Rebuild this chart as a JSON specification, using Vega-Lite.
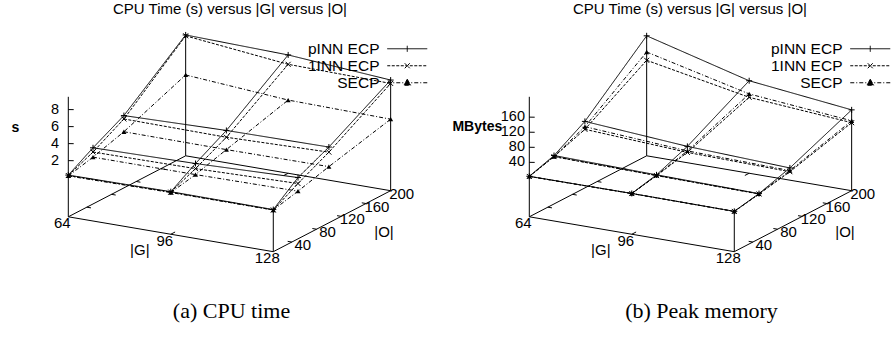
{
  "$schema": "https://vega.github.io/schema/vega-lite/v6.json",
  "padding": 0,
  "spacing": 0,
  "bounds": "flush",
  "background": "white",
  "datasets": {
    "cpu": [
      {"s":"pINN ECP","G":64,"O":10,"z":0.3},{"s":"pINN ECP","G":64,"O":50,"z":2.0},{"s":"pINN ECP","G":64,"O":100,"z":3.9},{"s":"pINN ECP","G":64,"O":200,"z":9.6},
      {"s":"pINN ECP","G":96,"O":10,"z":0.4},{"s":"pINN ECP","G":96,"O":50,"z":2.2},{"s":"pINN ECP","G":96,"O":100,"z":4.2},{"s":"pINN ECP","G":96,"O":200,"z":9.3},
      {"s":"pINN ECP","G":128,"O":10,"z":0.35},{"s":"pINN ECP","G":128,"O":50,"z":2.6},{"s":"pINN ECP","G":128,"O":100,"z":4.3},{"s":"pINN ECP","G":128,"O":200,"z":8.4},
      {"s":"1INN ECP","G":64,"O":10,"z":0.25},{"s":"1INN ECP","G":64,"O":50,"z":1.5},{"s":"1INN ECP","G":64,"O":100,"z":3.5},{"s":"1INN ECP","G":64,"O":200,"z":9.5},
      {"s":"1INN ECP","G":96,"O":10,"z":0.35},{"s":"1INN ECP","G":96,"O":50,"z":1.6},{"s":"1INN ECP","G":96,"O":100,"z":3.4},{"s":"1INN ECP","G":96,"O":200,"z":8.2},
      {"s":"1INN ECP","G":128,"O":10,"z":0.3},{"s":"1INN ECP","G":128,"O":50,"z":1.9},{"s":"1INN ECP","G":128,"O":100,"z":3.7},{"s":"1INN ECP","G":128,"O":200,"z":8.0},
      {"s":"SECP","G":64,"O":10,"z":0.2},{"s":"SECP","G":64,"O":50,"z":0.9},{"s":"SECP","G":64,"O":100,"z":2.0},{"s":"SECP","G":64,"O":200,"z":4.9},
      {"s":"SECP","G":96,"O":10,"z":0.3},{"s":"SECP","G":96,"O":50,"z":0.9},{"s":"SECP","G":96,"O":100,"z":1.95},{"s":"SECP","G":96,"O":200,"z":4.0},
      {"s":"SECP","G":128,"O":10,"z":0.3},{"s":"SECP","G":128,"O":50,"z":1.0},{"s":"SECP","G":128,"O":100,"z":2.0},{"s":"SECP","G":128,"O":200,"z":3.8}
    ],
    "mem": [
      {"s":"pINN ECP","G":64,"O":10,"z":3},{"s":"pINN ECP","G":64,"O":50,"z":24},{"s":"pINN ECP","G":64,"O":100,"z":72},{"s":"pINN ECP","G":64,"O":200,"z":214},
      {"s":"pINN ECP","G":96,"O":10,"z":3.7},{"s":"pINN ECP","G":96,"O":50,"z":19},{"s":"pINN ECP","G":96,"O":100,"z":52},{"s":"pINN ECP","G":96,"O":200,"z":141},
      {"s":"pINN ECP","G":128,"O":10,"z":2.5},{"s":"pINN ECP","G":128,"O":50,"z":15.5},{"s":"pINN ECP","G":128,"O":100,"z":41},{"s":"pINN ECP","G":128,"O":200,"z":110},
      {"s":"1INN ECP","G":64,"O":10,"z":2.5},{"s":"1INN ECP","G":64,"O":50,"z":21},{"s":"1INN ECP","G":64,"O":100,"z":51},{"s":"1INN ECP","G":64,"O":200,"z":149},
      {"s":"1INN ECP","G":96,"O":10,"z":3.4},{"s":"1INN ECP","G":96,"O":50,"z":17},{"s":"1INN ECP","G":96,"O":100,"z":36},{"s":"1INN ECP","G":96,"O":200,"z":97},
      {"s":"1INN ECP","G":128,"O":10,"z":2.3},{"s":"1INN ECP","G":128,"O":50,"z":14.5},{"s":"1INN ECP","G":128,"O":100,"z":31},{"s":"1INN ECP","G":128,"O":200,"z":76},
      {"s":"SECP","G":64,"O":10,"z":2.6},{"s":"SECP","G":64,"O":50,"z":21.5},{"s":"SECP","G":64,"O":100,"z":58},{"s":"SECP","G":64,"O":200,"z":171},
      {"s":"SECP","G":96,"O":10,"z":3.5},{"s":"SECP","G":96,"O":50,"z":17.5},{"s":"SECP","G":96,"O":100,"z":40},{"s":"SECP","G":96,"O":200,"z":106},
      {"s":"SECP","G":128,"O":10,"z":2.4},{"s":"SECP","G":128,"O":50,"z":15},{"s":"SECP","G":128,"O":100,"z":34},{"s":"SECP","G":128,"O":200,"z":81}
    ],
    "frameA": [
      {"id":"b","k":0,"G":64,"O":10,"z":-4.6},{"id":"b","k":1,"G":128,"O":10,"z":-4.6},{"id":"b","k":2,"G":128,"O":200,"z":-4.6},{"id":"b","k":3,"G":64,"O":200,"z":-4.6},{"id":"b","k":4,"G":64,"O":10,"z":-4.6},
      {"id":"za","k":0,"G":64,"O":10,"z":-4.6},{"id":"za","k":1,"G":64,"O":10,"z":9.5},
      {"id":"c1","k":0,"G":64,"O":200,"z":-4.6},{"id":"c1","k":1,"G":64,"O":200,"z":9.6},
      {"id":"c2","k":0,"G":128,"O":10,"z":-4.6},{"id":"c2","k":1,"G":128,"O":10,"z":0.35},
      {"id":"c3","k":0,"G":128,"O":200,"z":-4.6},{"id":"c3","k":1,"G":128,"O":200,"z":8.4},
      {"id":"tz2","k":0,"G":64,"O":10,"z":2},{"id":"tz2","k":1,"G":65.3,"O":12,"z":2},
      {"id":"tz4","k":0,"G":64,"O":10,"z":4},{"id":"tz4","k":1,"G":65.3,"O":12,"z":4},
      {"id":"tz6","k":0,"G":64,"O":10,"z":6},{"id":"tz6","k":1,"G":65.3,"O":12,"z":6},
      {"id":"tz8","k":0,"G":64,"O":10,"z":8},{"id":"tz8","k":1,"G":65.3,"O":12,"z":8},
      {"id":"tgf","k":0,"G":96,"O":10,"z":-4.6},{"id":"tgf","k":1,"G":96,"O":17,"z":-4.6},
      {"id":"tgb","k":0,"G":96,"O":200,"z":-4.6},{"id":"tgb","k":1,"G":96,"O":193,"z":-4.6},
      {"id":"tr40","k":0,"G":128,"O":40,"z":-4.6},{"id":"tr40","k":1,"G":126.7,"O":40,"z":-4.6},
      {"id":"tr80","k":0,"G":128,"O":80,"z":-4.6},{"id":"tr80","k":1,"G":126.7,"O":80,"z":-4.6},
      {"id":"tr120","k":0,"G":128,"O":120,"z":-4.6},{"id":"tr120","k":1,"G":126.7,"O":120,"z":-4.6},
      {"id":"tr160","k":0,"G":128,"O":160,"z":-4.6},{"id":"tr160","k":1,"G":126.7,"O":160,"z":-4.6},
      {"id":"tl40","k":0,"G":64,"O":40,"z":-4.6},{"id":"tl40","k":1,"G":65.3,"O":40,"z":-4.6},
      {"id":"tl80","k":0,"G":64,"O":80,"z":-4.6},{"id":"tl80","k":1,"G":65.3,"O":80,"z":-4.6},
      {"id":"tl120","k":0,"G":64,"O":120,"z":-4.6},{"id":"tl120","k":1,"G":65.3,"O":120,"z":-4.6},
      {"id":"tl160","k":0,"G":64,"O":160,"z":-4.6},{"id":"tl160","k":1,"G":65.3,"O":160,"z":-4.6}
    ],
    "frameB": [
      {"id":"b","k":0,"G":64,"O":10,"z":-104.6},{"id":"b","k":1,"G":128,"O":10,"z":-104.6},{"id":"b","k":2,"G":128,"O":200,"z":-104.6},{"id":"b","k":3,"G":64,"O":200,"z":-104.6},{"id":"b","k":4,"G":64,"O":10,"z":-104.6},
      {"id":"za","k":0,"G":64,"O":10,"z":-104.6},{"id":"za","k":1,"G":64,"O":10,"z":214},
      {"id":"c1","k":0,"G":64,"O":200,"z":-104.6},{"id":"c1","k":1,"G":64,"O":200,"z":214},
      {"id":"c2","k":0,"G":128,"O":10,"z":-104.6},{"id":"c2","k":1,"G":128,"O":10,"z":2.5},
      {"id":"c3","k":0,"G":128,"O":200,"z":-104.6},{"id":"c3","k":1,"G":128,"O":200,"z":110},
      {"id":"tz40","k":0,"G":64,"O":10,"z":40},{"id":"tz40","k":1,"G":65.3,"O":12,"z":40},
      {"id":"tz80","k":0,"G":64,"O":10,"z":80},{"id":"tz80","k":1,"G":65.3,"O":12,"z":80},
      {"id":"tz120","k":0,"G":64,"O":10,"z":120},{"id":"tz120","k":1,"G":65.3,"O":12,"z":120},
      {"id":"tz160","k":0,"G":64,"O":10,"z":160},{"id":"tz160","k":1,"G":65.3,"O":12,"z":160},
      {"id":"tgf","k":0,"G":96,"O":10,"z":-104.6},{"id":"tgf","k":1,"G":96,"O":17,"z":-104.6},
      {"id":"tgb","k":0,"G":96,"O":200,"z":-104.6},{"id":"tgb","k":1,"G":96,"O":193,"z":-104.6},
      {"id":"tr40","k":0,"G":128,"O":40,"z":-104.6},{"id":"tr40","k":1,"G":126.7,"O":40,"z":-104.6},
      {"id":"tr80","k":0,"G":128,"O":80,"z":-104.6},{"id":"tr80","k":1,"G":126.7,"O":80,"z":-104.6},
      {"id":"tr120","k":0,"G":128,"O":120,"z":-104.6},{"id":"tr120","k":1,"G":126.7,"O":120,"z":-104.6},
      {"id":"tr160","k":0,"G":128,"O":160,"z":-104.6},{"id":"tr160","k":1,"G":126.7,"O":160,"z":-104.6},
      {"id":"tl40","k":0,"G":64,"O":40,"z":-104.6},{"id":"tl40","k":1,"G":65.3,"O":40,"z":-104.6},
      {"id":"tl80","k":0,"G":64,"O":80,"z":-104.6},{"id":"tl80","k":1,"G":65.3,"O":80,"z":-104.6},
      {"id":"tl120","k":0,"G":64,"O":120,"z":-104.6},{"id":"tl120","k":1,"G":65.3,"O":120,"z":-104.6},
      {"id":"tl160","k":0,"G":64,"O":160,"z":-104.6},{"id":"tl160","k":1,"G":65.3,"O":160,"z":-104.6}
    ],
    "zlabA": [{"t":"2","G":64,"O":10,"z":2},{"t":"4","G":64,"O":10,"z":4},{"t":"6","G":64,"O":10,"z":6},{"t":"8","G":64,"O":10,"z":8}],
    "zlabB": [{"t":"40","G":64,"O":10,"z":40},{"t":"80","G":64,"O":10,"z":80},{"t":"120","G":64,"O":10,"z":120},{"t":"160","G":64,"O":10,"z":160}],
    "glabA": [{"t":"64","G":64,"O":10,"z":-4.6},{"t":"96","G":96,"O":10,"z":-4.6},{"t":"128","G":128,"O":10,"z":-4.6}],
    "glabB": [{"t":"64","G":64,"O":10,"z":-104.6},{"t":"96","G":96,"O":10,"z":-104.6},{"t":"128","G":128,"O":10,"z":-104.6}],
    "olabA": [{"t":"40","G":128,"O":40,"z":-4.6},{"t":"80","G":128,"O":80,"z":-4.6},{"t":"120","G":128,"O":120,"z":-4.6},{"t":"160","G":128,"O":160,"z":-4.6},{"t":"200","G":128,"O":200,"z":-4.6}],
    "olabB": [{"t":"40","G":128,"O":40,"z":-104.6},{"t":"80","G":128,"O":80,"z":-104.6},{"t":"120","G":128,"O":120,"z":-104.6},{"t":"160","G":128,"O":160,"z":-104.6},{"t":"200","G":128,"O":200,"z":-104.6}],
    "gtA": [{"t":"|G|","G":96,"O":10,"z":-4.6}],
    "gtB": [{"t":"|G|","G":96,"O":10,"z":-104.6}],
    "otA": [{"t":"|O|","G":128,"O":105,"z":-4.6}],
    "otB": [{"t":"|O|","G":128,"O":105,"z":-104.6}],
    "ztA": [{"t":"s","G":64,"O":10,"z":6}],
    "ztB": [{"t":"MBytes","G":64,"O":10,"z":120}]
  },
  "resolve": {
    "scale": {"x":"independent","y":"independent","shape":"independent","strokeDash":"independent"},
    "legend": {"shape":"independent","strokeDash":"independent"}
  },
  "hconcat": [
    {
      "width": 446,
      "height": 344,
      "title": {"text":"CPU Time (s) versus |G| versus |O|","orient":"top","anchor":"middle","frame":"group","offset":-28.7,"baseline":"alphabetic","dx":7,"font":"Liberation Sans","fontSize":15,"fontWeight":"normal","color":"black"},
      "encoding": {
        "x": {"field":"px","type":"quantitative","scale":{"domain":[0,446],"nice":false,"zero":false},"axis":{"title":"(a) CPU time","titleX":231}},
        "y": {"field":"py","type":"quantitative","scale":{"domain":[0,344],"reverse":true,"nice":false,"zero":false},"axis":null}
      },
      "layer": [
        {
          "data": {"name":"frameA"},
          "transform": [
            {"calculate":"68.3 + 3.203*(datum.G-64) + 0.6177*(datum.O-10)","as":"px"},
            {"calculate":"216.8 + 0.545*(datum.G-64) - 0.321*(datum.O-10) - 120*(datum.z+4.6)/14.1","as":"py"}
          ],
          "mark": {"type":"line","color":"black","strokeWidth":1},
          "encoding": {"detail":{"field":"id","type":"nominal"},"order":{"field":"k","type":"quantitative"}}
        },
        {
          "data": {"name":"cpu"},
          "transform": [
            {"calculate":"68.3 + 3.203*(datum.G-64) + 0.6177*(datum.O-10)","as":"px"},
            {"calculate":"216.8 + 0.545*(datum.G-64) - 0.321*(datum.O-10) - 120*(datum.z+4.6)/14.1","as":"py"}
          ],
          "mark": {"type":"line","color":"black","strokeWidth":1},
          "encoding": {
            "detail":[{"field":"s","type":"nominal"},{"field":"G","type":"nominal"}],
            "order":{"field":"O","type":"quantitative"},
            "strokeDash":{"field":"s","type":"nominal","scale":{"domain":["pINN ECP","1INN ECP","SECP"],"range":[[1,0],[3,1.5],[4,2,1,2]]}}
          }
        },
        {
          "data": {"name":"cpu"},
          "transform": [
            {"calculate":"68.3 + 3.203*(datum.G-64) + 0.6177*(datum.O-10)","as":"px"},
            {"calculate":"216.8 + 0.545*(datum.G-64) - 0.321*(datum.O-10) - 120*(datum.z+4.6)/14.1","as":"py"}
          ],
          "mark": {"type":"line","color":"black","strokeWidth":1},
          "encoding": {
            "detail":[{"field":"s","type":"nominal"},{"field":"O","type":"nominal"}],
            "order":{"field":"G","type":"quantitative"},
            "strokeDash":{"field":"s","type":"nominal","scale":{"domain":["pINN ECP","1INN ECP","SECP"],"range":[[1,0],[3,1.5],[4,2,1,2]]}}
          }
        },
        {
          "data": {"name":"cpu"},
          "transform": [
            {"filter":"datum.s == 'pINN ECP'"},
            {"calculate":"68.3 + 3.203*(datum.G-64) + 0.6177*(datum.O-10)","as":"px"},
            {"calculate":"216.8 + 0.545*(datum.G-64) - 0.321*(datum.O-10) - 120*(datum.z+4.6)/14.1","as":"py"}
          ],
          "mark": {"type":"point","shape":"M-1,0L1,0M0,-1L0,1","size":36,"filled":false,"stroke":"black","strokeWidth":1,"opacity":1}
        },
        {
          "data": {"name":"cpu"},
          "transform": [
            {"filter":"datum.s == '1INN ECP'"},
            {"calculate":"68.3 + 3.203*(datum.G-64) + 0.6177*(datum.O-10)","as":"px"},
            {"calculate":"216.8 + 0.545*(datum.G-64) - 0.321*(datum.O-10) - 120*(datum.z+4.6)/14.1","as":"py"}
          ],
          "mark": {"type":"point","shape":"M-1,-1L1,1M-1,1L1,-1","size":25,"filled":false,"stroke":"black","strokeWidth":1,"opacity":1}
        },
        {
          "data": {"name":"cpu"},
          "transform": [
            {"filter":"datum.s == 'SECP'"},
            {"calculate":"68.3 + 3.203*(datum.G-64) + 0.6177*(datum.O-10)","as":"px"},
            {"calculate":"216.8 + 0.545*(datum.G-64) - 0.321*(datum.O-10) - 120*(datum.z+4.6)/14.1","as":"py"}
          ],
          "mark": {"type":"point","shape":"triangle-up","size":25,"filled":true,"fill":"black","opacity":1}
        },
        {
          "data": {"name":"zlabA"},
          "transform": [
            {"calculate":"68.3 + 3.203*(datum.G-64) + 0.6177*(datum.O-10)","as":"px"},
            {"calculate":"216.8 + 0.545*(datum.G-64) - 0.321*(datum.O-10) - 120*(datum.z+4.6)/14.1","as":"py"}
          ],
          "mark": {"type":"text","align":"right","baseline":"middle","dx":-9.3,"dy":0.5,"font":"Liberation Sans","fontSize":14.5,"color":"black"},
          "encoding": {"text":{"field":"t"}}
        },
        {
          "data": {"name":"glabA"},
          "transform": [
            {"calculate":"68.3 + 3.203*(datum.G-64) + 0.6177*(datum.O-10)","as":"px"},
            {"calculate":"216.8 + 0.545*(datum.G-64) - 0.321*(datum.O-10) - 120*(datum.z+4.6)/14.1","as":"py"}
          ],
          "mark": {"type":"text","align":"center","baseline":"middle","dx":-6,"dy":6.5,"font":"Liberation Sans","fontSize":15,"color":"black"},
          "encoding": {"text":{"field":"t"}}
        },
        {
          "data": {"name":"olabA"},
          "transform": [
            {"calculate":"68.3 + 3.203*(datum.G-64) + 0.6177*(datum.O-10)","as":"px"},
            {"calculate":"216.8 + 0.545*(datum.G-64) - 0.321*(datum.O-10) - 120*(datum.z+4.6)/14.1","as":"py"}
          ],
          "mark": {"type":"text","align":"center","baseline":"middle","dx":11,"dy":3,"font":"Liberation Sans","fontSize":15,"color":"black"},
          "encoding": {"text":{"field":"t"}}
        },
        {
          "data": {"name":"gtA"},
          "transform": [
            {"calculate":"68.3 + 3.203*(datum.G-64) + 0.6177*(datum.O-10)","as":"px"},
            {"calculate":"216.8 + 0.545*(datum.G-64) - 0.321*(datum.O-10) - 120*(datum.z+4.6)/14.1","as":"py"}
          ],
          "mark": {"type":"text","align":"center","baseline":"middle","dx":-31,"dy":16,"font":"Liberation Sans","fontSize":15,"color":"black"},
          "encoding": {"text":{"field":"t"}}
        },
        {
          "data": {"name":"otA"},
          "transform": [
            {"calculate":"68.3 + 3.203*(datum.G-64) + 0.6177*(datum.O-10)","as":"px"},
            {"calculate":"216.8 + 0.545*(datum.G-64) - 0.321*(datum.O-10) - 120*(datum.z+4.6)/14.1","as":"py"}
          ],
          "mark": {"type":"text","align":"center","baseline":"middle","dx":52,"dy":11,"font":"Liberation Sans","fontSize":15,"color":"black"},
          "encoding": {"text":{"field":"t"}}
        },
        {
          "data": {"name":"ztA"},
          "transform": [
            {"calculate":"68.3 + 3.203*(datum.G-64) + 0.6177*(datum.O-10)","as":"px"},
            {"calculate":"216.8 + 0.545*(datum.G-64) - 0.321*(datum.O-10) - 120*(datum.z+4.6)/14.1","as":"py"}
          ],
          "mark": {"type":"text","align":"center","baseline":"middle","dx":-53,"dy":1.5,"font":"Liberation Sans","fontSize":14,"fontWeight":"bold","color":"black"},
          "encoding": {"text":{"field":"t"}}
        },
        {
          "data": {"name":"cpu"},
          "transform": [
            {"filter":"datum.G < 0"},
            {"calculate":"68.3 + 3.203*(datum.G-64) + 0.6177*(datum.O-10)","as":"px"},
            {"calculate":"216.8 + 0.545*(datum.G-64) - 0.321*(datum.O-10) - 120*(datum.z+4.6)/14.1","as":"py"}
          ],
          "mark": {"type":"point","filled":true,"fill":"black","stroke":"black","strokeWidth":1},
          "encoding": {
            "shape":{"field":"s","type":"nominal","scale":{"domain":["pINN ECP","1INN ECP","SECP"],"range":["M2,0L10,0M6,-0.6L6,0.6","M2,0L10,0M5.5,-0.5L6.5,0.5M5.5,0.5L6.5,-0.5","M2,0L10,0M6,-0.7L6.7,0.5L5.3,0.5Z"]},
              "legend":{"title":null,"orient":"none","legendX":369.5,"legendY":41,"direction":"vertical","symbolSize":100,"symbolStrokeWidth":1,"symbolStrokeColor":"black","symbolFillColor":"black","symbolOpacity":1,"labelAlign":"right","labelOffset":-5.5,"labelFont":"Liberation Sans","labelFontSize":15.5,"labelColor":"black","rowPadding":0,"padding":0,"labelLimit":300}},
            "strokeDash":{"field":"s","type":"nominal","scale":{"domain":["pINN ECP","1INN ECP","SECP"],"range":[[1,0],[3,1.5],[4,2,1,2]]},
              "legend":{"title":null,"orient":"none","legendX":369.5,"legendY":41,"direction":"vertical","symbolSize":100,"symbolStrokeWidth":1,"symbolStrokeColor":"black","symbolFillColor":"black","symbolOpacity":1,"labelAlign":"right","labelOffset":-5.5,"labelFont":"Liberation Sans","labelFontSize":15.5,"labelColor":"black","rowPadding":0,"padding":0,"labelLimit":300}}
          }
        }
      ]
    },
    {
      "width": 446,
      "height": 344,
      "title": {"text":"CPU Time (s) versus |G| versus |O|","orient":"top","anchor":"middle","frame":"group","offset":-28.7,"baseline":"alphabetic","dx":21,"font":"Liberation Sans","fontSize":15,"fontWeight":"normal","color":"black"},
      "encoding": {
        "x": {"field":"px","type":"quantitative","scale":{"domain":[0,446],"nice":false,"zero":false},"axis":{"title":"(b) Peak memory","titleX":255}},
        "y": {"field":"py","type":"quantitative","scale":{"domain":[0,344],"reverse":true,"nice":false,"zero":false},"axis":null}
      },
      "layer": [
        {
          "data": {"name":"frameB"},
          "transform": [
            {"calculate":"83.3 + 3.203*(datum.G-64) + 0.6177*(datum.O-10)","as":"px"},
            {"calculate":"216.8 + 0.545*(datum.G-64) - 0.321*(datum.O-10) - 120*(datum.z+104.6)/318.6","as":"py"}
          ],
          "mark": {"type":"line","color":"black","strokeWidth":1},
          "encoding": {"detail":{"field":"id","type":"nominal"},"order":{"field":"k","type":"quantitative"}}
        },
        {
          "data": {"name":"mem"},
          "transform": [
            {"calculate":"83.3 + 3.203*(datum.G-64) + 0.6177*(datum.O-10)","as":"px"},
            {"calculate":"216.8 + 0.545*(datum.G-64) - 0.321*(datum.O-10) - 120*(datum.z+104.6)/318.6","as":"py"}
          ],
          "mark": {"type":"line","color":"black","strokeWidth":1},
          "encoding": {
            "detail":[{"field":"s","type":"nominal"},{"field":"G","type":"nominal"}],
            "order":{"field":"O","type":"quantitative"},
            "strokeDash":{"field":"s","type":"nominal","scale":{"domain":["pINN ECP","1INN ECP","SECP"],"range":[[1,0],[3,1.5],[4,2,1,2]]}}
          }
        },
        {
          "data": {"name":"mem"},
          "transform": [
            {"calculate":"83.3 + 3.203*(datum.G-64) + 0.6177*(datum.O-10)","as":"px"},
            {"calculate":"216.8 + 0.545*(datum.G-64) - 0.321*(datum.O-10) - 120*(datum.z+104.6)/318.6","as":"py"}
          ],
          "mark": {"type":"line","color":"black","strokeWidth":1},
          "encoding": {
            "detail":[{"field":"s","type":"nominal"},{"field":"O","type":"nominal"}],
            "order":{"field":"G","type":"quantitative"},
            "strokeDash":{"field":"s","type":"nominal","scale":{"domain":["pINN ECP","1INN ECP","SECP"],"range":[[1,0],[3,1.5],[4,2,1,2]]}}
          }
        },
        {
          "data": {"name":"mem"},
          "transform": [
            {"filter":"datum.s == 'pINN ECP'"},
            {"calculate":"83.3 + 3.203*(datum.G-64) + 0.6177*(datum.O-10)","as":"px"},
            {"calculate":"216.8 + 0.545*(datum.G-64) - 0.321*(datum.O-10) - 120*(datum.z+104.6)/318.6","as":"py"}
          ],
          "mark": {"type":"point","shape":"M-1,0L1,0M0,-1L0,1","size":36,"filled":false,"stroke":"black","strokeWidth":1,"opacity":1}
        },
        {
          "data": {"name":"mem"},
          "transform": [
            {"filter":"datum.s == '1INN ECP'"},
            {"calculate":"83.3 + 3.203*(datum.G-64) + 0.6177*(datum.O-10)","as":"px"},
            {"calculate":"216.8 + 0.545*(datum.G-64) - 0.321*(datum.O-10) - 120*(datum.z+104.6)/318.6","as":"py"}
          ],
          "mark": {"type":"point","shape":"M-1,-1L1,1M-1,1L1,-1","size":25,"filled":false,"stroke":"black","strokeWidth":1,"opacity":1}
        },
        {
          "data": {"name":"mem"},
          "transform": [
            {"filter":"datum.s == 'SECP'"},
            {"calculate":"83.3 + 3.203*(datum.G-64) + 0.6177*(datum.O-10)","as":"px"},
            {"calculate":"216.8 + 0.545*(datum.G-64) - 0.321*(datum.O-10) - 120*(datum.z+104.6)/318.6","as":"py"}
          ],
          "mark": {"type":"point","shape":"triangle-up","size":25,"filled":true,"fill":"black","opacity":1}
        },
        {
          "data": {"name":"zlabB"},
          "transform": [
            {"calculate":"83.3 + 3.203*(datum.G-64) + 0.6177*(datum.O-10)","as":"px"},
            {"calculate":"216.8 + 0.545*(datum.G-64) - 0.321*(datum.O-10) - 120*(datum.z+104.6)/318.6","as":"py"}
          ],
          "mark": {"type":"text","align":"right","baseline":"middle","dx":-4.3,"dy":0,"font":"Liberation Sans","fontSize":14.5,"color":"black"},
          "encoding": {"text":{"field":"t"}}
        },
        {
          "data": {"name":"glabB"},
          "transform": [
            {"calculate":"83.3 + 3.203*(datum.G-64) + 0.6177*(datum.O-10)","as":"px"},
            {"calculate":"216.8 + 0.545*(datum.G-64) - 0.321*(datum.O-10) - 120*(datum.z+104.6)/318.6","as":"py"}
          ],
          "mark": {"type":"text","align":"center","baseline":"middle","dx":-6,"dy":6.5,"font":"Liberation Sans","fontSize":15,"color":"black"},
          "encoding": {"text":{"field":"t"}}
        },
        {
          "data": {"name":"olabB"},
          "transform": [
            {"calculate":"83.3 + 3.203*(datum.G-64) + 0.6177*(datum.O-10)","as":"px"},
            {"calculate":"216.8 + 0.545*(datum.G-64) - 0.321*(datum.O-10) - 120*(datum.z+104.6)/318.6","as":"py"}
          ],
          "mark": {"type":"text","align":"center","baseline":"middle","dx":11,"dy":3,"font":"Liberation Sans","fontSize":15,"color":"black"},
          "encoding": {"text":{"field":"t"}}
        },
        {
          "data": {"name":"gtB"},
          "transform": [
            {"calculate":"83.3 + 3.203*(datum.G-64) + 0.6177*(datum.O-10)","as":"px"},
            {"calculate":"216.8 + 0.545*(datum.G-64) - 0.321*(datum.O-10) - 120*(datum.z+104.6)/318.6","as":"py"}
          ],
          "mark": {"type":"text","align":"center","baseline":"middle","dx":-31,"dy":16,"font":"Liberation Sans","fontSize":15,"color":"black"},
          "encoding": {"text":{"field":"t"}}
        },
        {
          "data": {"name":"otB"},
          "transform": [
            {"calculate":"83.3 + 3.203*(datum.G-64) + 0.6177*(datum.O-10)","as":"px"},
            {"calculate":"216.8 + 0.545*(datum.G-64) - 0.321*(datum.O-10) - 120*(datum.z+104.6)/318.6","as":"py"}
          ],
          "mark": {"type":"text","align":"center","baseline":"middle","dx":52,"dy":11,"font":"Liberation Sans","fontSize":15,"color":"black"},
          "encoding": {"text":{"field":"t"}}
        },
        {
          "data": {"name":"ztB"},
          "transform": [
            {"calculate":"83.3 + 3.203*(datum.G-64) + 0.6177*(datum.O-10)","as":"px"},
            {"calculate":"216.8 + 0.545*(datum.G-64) - 0.321*(datum.O-10) - 120*(datum.z+104.6)/318.6","as":"py"}
          ],
          "mark": {"type":"text","align":"center","baseline":"middle","dx":-52,"dy":-5,"font":"Liberation Sans","fontSize":14,"fontWeight":"bold","color":"black"},
          "encoding": {"text":{"field":"t"}}
        },
        {
          "data": {"name":"mem"},
          "transform": [
            {"filter":"datum.G < 0"},
            {"calculate":"83.3 + 3.203*(datum.G-64) + 0.6177*(datum.O-10)","as":"px"},
            {"calculate":"216.8 + 0.545*(datum.G-64) - 0.321*(datum.O-10) - 120*(datum.z+104.6)/318.6","as":"py"}
          ],
          "mark": {"type":"point","filled":true,"fill":"black","stroke":"black","strokeWidth":1},
          "encoding": {
            "shape":{"field":"s","type":"nominal","scale":{"domain":["pINN ECP","1INN ECP","SECP"],"range":["M2,0L10,0M6,-0.6L6,0.6","M2,0L10,0M5.5,-0.5L6.5,0.5M5.5,0.5L6.5,-0.5","M2,0L10,0M6,-0.7L6.7,0.5L5.3,0.5Z"]},
              "legend":{"title":null,"orient":"none","legendX":386.5,"legendY":41,"direction":"vertical","symbolSize":100,"symbolStrokeWidth":1,"symbolStrokeColor":"black","symbolFillColor":"black","symbolOpacity":1,"labelAlign":"right","labelOffset":-5.5,"labelFont":"Liberation Sans","labelFontSize":15.5,"labelColor":"black","rowPadding":0,"padding":0,"labelLimit":300}},
            "strokeDash":{"field":"s","type":"nominal","scale":{"domain":["pINN ECP","1INN ECP","SECP"],"range":[[1,0],[3,1.5],[4,2,1,2]]},
              "legend":{"title":null,"orient":"none","legendX":386.5,"legendY":41,"direction":"vertical","symbolSize":100,"symbolStrokeWidth":1,"symbolStrokeColor":"black","symbolFillColor":"black","symbolOpacity":1,"labelAlign":"right","labelOffset":-5.5,"labelFont":"Liberation Sans","labelFontSize":15.5,"labelColor":"black","rowPadding":0,"padding":0,"labelLimit":300}}
          }
        }
      ]
    }
  ],
  "config": {
    "view": {"stroke": null},
    "axisX": {"labels":false,"ticks":false,"domain":false,"grid":false,"titleFont":"Liberation Serif","titleFontSize":22,"titleFontWeight":"normal","titleColor":"black","titleY":-27,"titleBaseline":"alphabetic","titleAlign":"center"}
  }
}
